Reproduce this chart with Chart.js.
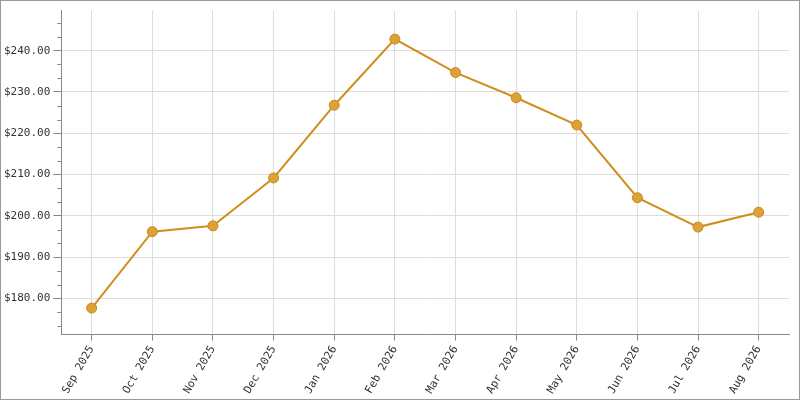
<!DOCTYPE html>
<html><head><meta charset="utf-8">
<script src="https://cdn.jsdelivr.net/npm/chart.js@4"></script>
<style>html,body{margin:0;padding:0;background:#fff}
#wrap{position:absolute;left:0;top:0;width:798px;height:398px;border:1px solid #999}
</style></head><body>
<div id="wrap"><canvas id="c" width="798" height="398"></canvas></div>
<script>
const categories=["Sep 2025","Oct 2025","Nov 2025","Dec 2025","Jan 2026","Feb 2026","Mar 2026","Apr 2026","May 2026","Jun 2026","Jul 2026","Aug 2026"];
const prices=[177.7,196.2,197.6,209.2,226.8,242.8,234.7,228.6,222.0,204.4,197.3,200.9];
const yMin=171.3, yMax=249.7;
const minorTicks={id:'minor',afterDraw(ch){const s=ch.scales.y,ctx=ch.ctx;ctx.save();ctx.strokeStyle='#888';ctx.lineWidth=1;
for(let v=170;v<=250;v+=10/3){if(v<yMin||v>yMax)continue;if(Math.abs(v/10-Math.round(v/10))<0.01)continue;const y=Math.round(s.getPixelForValue(v))+0.5;ctx.beginPath();ctx.moveTo(s.right-4,y);ctx.lineTo(s.right,y);ctx.stroke();}
ctx.restore();}};
new Chart(document.getElementById('c'),{type:'line',
data:{labels:categories,datasets:[{data:prices,borderColor:'#D08E1F',borderWidth:2,backgroundColor:'#DDA235',pointBorderColor:'#C4891E',pointBorderWidth:1,pointRadius:5,pointHoverRadius:5,tension:0}]},
options:{responsive:false,animation:false,layout:{padding:{top:9,right:10,left:0,bottom:0}},
plugins:{legend:{display:false},tooltip:{enabled:false}},
scales:{x:{offset:true,grid:{color:'#ddd',tickLength:6,tickColor:'#888'},border:{color:'#888'},
ticks:{color:'#333',maxRotation:60,minRotation:60,font:{family:'DejaVu Sans Mono',size:11}}},
y:{min:yMin,max:yMax,afterBuildTicks(s){s.ticks=[180,190,200,210,220,230,240].map(v=>({value:v}));},
grid:{color:'#ddd',tickLength:8,tickColor:'#888'},border:{color:'#888'},
ticks:{color:'#333',font:{family:'DejaVu Sans Mono',size:11},callback:v=>'$'+v.toFixed(2)}}}},
plugins:[minorTicks]});
</script></body></html>
